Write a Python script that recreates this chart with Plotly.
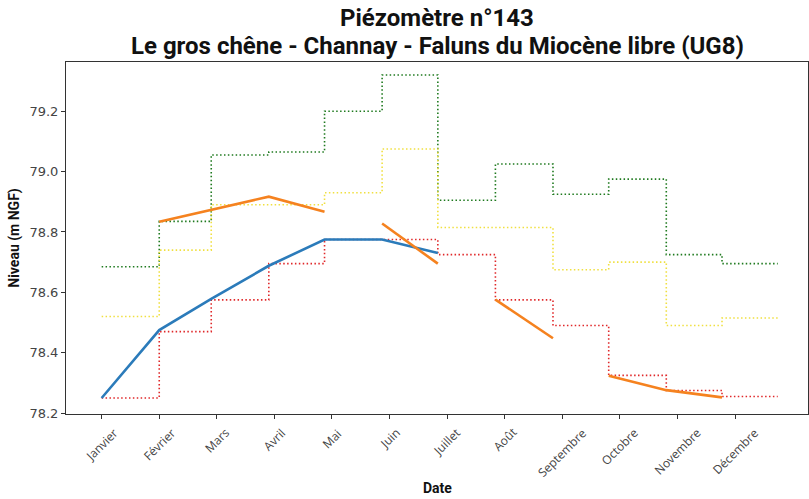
import plotly.graph_objects as go

# Month labels and tick positions (day of year, one tick every 31 days)
month_labels = ["Janvier", "Février", "Mars", "Avril", "Mai", "Juin", "Juillet",
                "Août", "Septembre", "Octobre", "Novembre", "Décembre"]
tick_days = [0, 31, 62, 93, 124, 155, 186, 217, 248, 279, 310, 341]

# Start day of each month, plus the last day of the year to close the steps
month_start_days = [0, 31, 59, 90, 120, 151, 181, 212, 243, 273, 304, 334]
year_end_day = 364

# Monthly reference levels (m NGF)
level_high = [78.685, 78.835, 79.055, 79.065, 79.20, 79.32, 78.905, 79.025,
              78.925, 78.975, 78.725, 78.695]
level_mid = [78.52, 78.74, 78.89, 78.89, 78.93, 79.075, 78.815, 78.815,
             78.675, 78.70, 78.49, 78.515]
level_low = [78.25, 78.47, 78.575, 78.695, 78.775, 78.775, 78.725, 78.575,
             78.49, 78.325, 78.275, 78.255]

# Current-year measurements (blue)
current_days = [0, 31, 59, 90, 120, 151, 181]
current_levels = [78.25, 78.475, 78.578, 78.688, 78.775, 78.775, 78.73]

# Previous-year measurements (orange), as separate runs of consecutive months
previous_runs_days = [[31, 59, 90, 120], [151, 181], [212, 243], [273, 304, 334]]
previous_runs_levels = [[78.834, 78.873, 78.917, 78.867], [78.828, 78.695],
                        [78.576, 78.448], [78.324, 78.276, 78.252]]

title_lines = ["Piézomètre n°143",
               "Le gros chêne - Channay - Faluns du Miocène libre (UG8)"]

fig = go.Figure()

dot_dash = "1.5px,2.4px"


def step_trace(values, color):
    xs = month_start_days + [year_end_day]
    ys = values + [values[-1]]
    return go.Scatter(x=xs, y=ys, mode="lines", line_shape="hv",
                      line=dict(color=color, width=1.6, dash=dot_dash),
                      hoverinfo="skip", showlegend=False)


fig.add_trace(step_trace(level_high, "#1f7a1f"))
fig.add_trace(step_trace(level_mid, "#f0e040"))
fig.add_trace(step_trace(level_low, "#e0282a"))

fig.add_trace(go.Scatter(x=current_days, y=current_levels, mode="lines",
                         line=dict(color="#2b7bba", width=2.6),
                         showlegend=False))

prev_x, prev_y = [], []
for ds, vs in zip(previous_runs_days, previous_runs_levels):
    prev_x += ds + [None]
    prev_y += vs + [None]
fig.add_trace(go.Scatter(x=prev_x, y=prev_y, mode="lines", connectgaps=False,
                         line=dict(color="#f5821f", width=2.6),
                         showlegend=False))

# Two-line bold title centred over the plotting area
for text, ypos in zip(title_lines, [1.125, 1.045]):
    fig.add_annotation(text=f"<b>{text}</b>", x=0.5, y=ypos, xref="paper",
                       yref="paper", xanchor="center", yanchor="middle",
                       showarrow=False,
                       font=dict(family="Roboto", size=24, color="#111111"))

# Rotated month labels, centred under each tick
for day, label in zip(tick_days, month_labels):
    fig.add_annotation(text=label, x=day, xref="x", y=-0.022, yref="paper",
                       xanchor="center", yanchor="top", textangle=-45,
                       showarrow=False,
                       font=dict(family="Open Sans", size=12, color="#444444"))

# x-axis title
fig.add_annotation(text="<b>Date</b>", x=0.5, xref="paper", y=-0.21,
                   yref="paper", xanchor="center", yanchor="middle",
                   showarrow=False,
                   font=dict(family="Roboto", size=14, color="#111111"))

axis_line = dict(showline=True, linecolor="#333333", linewidth=1, mirror=True,
                 ticks="outside", ticklen=4, tickcolor="#333333",
                 showgrid=False, zeroline=False)

fig.update_layout(
    width=809, height=499,
    margin=dict(l=66, r=1, t=62, b=85),
    plot_bgcolor="white", paper_bgcolor="white",
    xaxis=dict(range=[-19.2, 380.3], tickvals=tick_days, showticklabels=False,
               **axis_line),
    yaxis=dict(range=[78.197, 79.363], tickvals=[78.2, 78.4, 78.6, 78.8, 79.0, 79.2],
               ticktext=["78.2", "78.4", "78.6", "78.8", "79.0", "79.2"],
               tickfont=dict(family="DejaVu Sans", size=13, color="#444444"),
               title=dict(text="<b>Niveau (m NGF)</b>", standoff=6,
                          font=dict(family="Roboto", size=14, color="#111111")),
               **axis_line),
)

fig.write_html("out.html")
